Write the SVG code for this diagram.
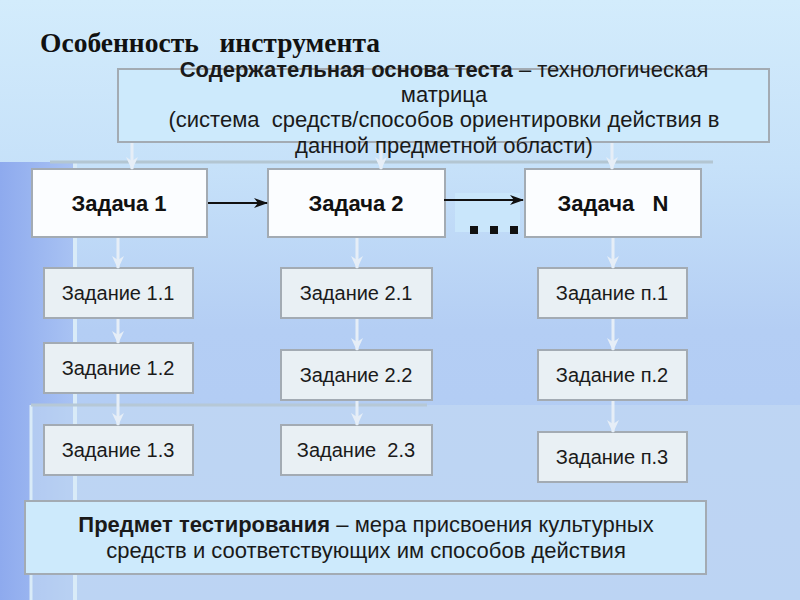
<svg xmlns="http://www.w3.org/2000/svg" width="800" height="600" viewBox="0 0 800 600">
  <defs>
    <linearGradient id="bg" x1="0" y1="0" x2="0" y2="1">
      <stop offset="0" stop-color="#d3ecfc"/>
      <stop offset="0.28" stop-color="#c6e1f9"/>
      <stop offset="0.55" stop-color="#b4cef4"/>
      <stop offset="1" stop-color="#b0caf4"/>
    </linearGradient>
    <linearGradient id="leftband" x1="0" y1="0" x2="1" y2="0">
      <stop offset="0" stop-color="#8eaaee"/>
      <stop offset="1" stop-color="#a9c3f3"/>
    </linearGradient>
    <marker id="blk" markerWidth="14" markerHeight="12" refX="13" refY="6" orient="auto" markerUnits="userSpaceOnUse">
      <path d="M0,1 L14,6 L0,11 L4,6 Z" fill="#111"/>
    </marker>
    <marker id="wht" markerWidth="14" markerHeight="14" refX="12" refY="7" orient="auto" markerUnits="userSpaceOnUse">
      <path d="M0,1 L13,7 L0,13 L4,7 Z" fill="#e6eef7"/>
    </marker>
  </defs>
  <style>
    text { white-space: pre; }
    .title { font-family: "Liberation Serif", "Times New Roman", serif; font-weight: bold; font-size: 28px; fill: #111; }
    .txt { font-family: "Liberation Sans", Arial, sans-serif; font-size: 22px; fill: #1a1a1a; }
    .b { font-weight: bold; }
    .task { font-family: "Liberation Sans", Arial, sans-serif; font-weight: bold; font-size: 22px; fill: #111; text-anchor: middle; }
    .sub { font-family: "Liberation Sans", Arial, sans-serif; font-size: 20px; fill: #1a1a1a; text-anchor: middle; }
    .info { fill: #cdeafc; stroke: #a3abb3; stroke-width: 2; }
    .taskbox { fill: #fbfdff; stroke: #a3abb3; stroke-width: 2; }
    .subbox { fill: #e9f0f4; stroke: #a3abb3; stroke-width: 2; }
    .down { stroke: #e6eef7; stroke-width: 3; fill: none; marker-end: url(#wht); }
    .flow { stroke: #111; stroke-width: 2; fill: none; marker-end: url(#blk); }
  </style>

  <!-- background -->
  <rect x="0" y="0" width="800" height="600" fill="url(#bg)"/>
  <rect x="0" y="162" width="75" height="438" fill="url(#leftband)"/>
  <rect x="30" y="405" width="770" height="195" fill="#c6ddf3" opacity="0.55"/>
  <line x1="75" y1="162" x2="75" y2="600" stroke="#d9ebf8" stroke-width="4"/>
  <line x1="31" y1="405" x2="31" y2="600" stroke="#d9ebf8" stroke-width="3"/>
  <line x1="50" y1="162" x2="713" y2="162" stroke="#b3c6d2" stroke-width="3"/>
  <line x1="31" y1="405" x2="427" y2="405" stroke="#b6c8d6" stroke-width="3"/>

  <text class="title" x="40" y="52" textLength="340" lengthAdjust="spacingAndGlyphs">Особенность   инструмента</text>

  <g id="matrix">
    <rect class="info" x="118" y="69" width="651" height="73"/>
    <text class="txt" x="444" y="77" text-anchor="middle"><tspan class="b">Содержательная основа теста</tspan> – технологическая</text>
    <text class="txt" x="444" y="102" text-anchor="middle">матрица</text>
    <text class="txt" x="444" y="127" text-anchor="middle">(система  средств/способов ориентировки действия в</text>
    <text class="txt" x="444" y="153" text-anchor="middle">данной предметной области)</text>
  </g>

  <g id="task1"><rect class="taskbox" x="32" y="169" width="175" height="68"/><text class="task" x="119" y="211">Задача 1</text></g>
  <g id="task2"><rect class="taskbox" x="268" y="169" width="177" height="68"/><text class="task" x="356" y="211">Задача 2</text></g>
  <g id="taskN"><rect class="taskbox" x="525" y="169" width="176" height="68"/><text class="task" x="613" y="211">Задача   N</text></g>

  <g id="sub11"><rect class="subbox" x="44" y="268" width="149" height="50"/><text class="sub" x="118" y="300">Задание 1.1</text></g>
  <g id="sub12"><rect class="subbox" x="44" y="343" width="149" height="50"/><text class="sub" x="118" y="375">Задание 1.2</text></g>
  <g id="sub13"><rect class="subbox" x="44" y="425" width="149" height="50"/><text class="sub" x="118" y="457">Задание 1.3</text></g>

  <g id="sub21"><rect class="subbox" x="281" y="268" width="151" height="50"/><text class="sub" x="356" y="300">Задание 2.1</text></g>
  <g id="sub22"><rect class="subbox" x="281" y="350" width="151" height="50"/><text class="sub" x="356" y="382">Задание 2.2</text></g>
  <g id="sub23"><rect class="subbox" x="281" y="425" width="151" height="50"/><text class="sub" x="356" y="457">Задание  2.3</text></g>

  <g id="subn1"><rect class="subbox" x="538" y="268" width="149" height="50"/><text class="sub" x="612" y="300">Задание п.1</text></g>
  <g id="subn2"><rect class="subbox" x="538" y="350" width="149" height="50"/><text class="sub" x="612" y="382">Задание п.2</text></g>
  <g id="subn3"><rect class="subbox" x="538" y="432" width="149" height="50"/><text class="sub" x="612" y="464">Задание п.3</text></g>

  <g id="subject">
    <rect class="info" x="25" y="501" width="681" height="73"/>
    <text class="txt" x="366" y="532" text-anchor="middle"><tspan class="b">Предмет тестирования</tspan> – мера присвоения культурных</text>
    <text class="txt" x="366" y="558" text-anchor="middle">средств и соответствующих им способов действия</text>
  </g>

  <g id="connectors">
    <line class="down" x1="132" y1="143" x2="132" y2="169"/>
    <line class="down" x1="381" y1="143" x2="381" y2="169"/>
    <line class="down" x1="612" y1="143" x2="612" y2="169"/>
    <line class="down" x1="118" y1="238" x2="118" y2="268"/>
    <line class="down" x1="357" y1="238" x2="357" y2="268"/>
    <line class="down" x1="613" y1="238" x2="613" y2="268"/>
    <line class="down" x1="118" y1="319" x2="118" y2="343"/>
    <line class="down" x1="357" y1="319" x2="357" y2="350"/>
    <line class="down" x1="613" y1="319" x2="613" y2="350"/>
    <line class="down" x1="118" y1="394" x2="118" y2="425"/>
    <line class="down" x1="357" y1="401" x2="357" y2="425"/>
    <line class="down" x1="613" y1="401" x2="613" y2="432"/>
    <line class="flow" x1="208" y1="203" x2="267" y2="203"/>
    <rect x="455" y="193" width="65" height="39" fill="#c9e6fb"/>
    <line class="flow" x1="444" y1="200" x2="523" y2="200"/>
    <rect x="470" y="226" width="8" height="8" fill="#111"/>
    <rect x="490" y="226" width="8" height="8" fill="#111"/>
    <rect x="510" y="226" width="8" height="8" fill="#111"/>
  </g>
</svg>
